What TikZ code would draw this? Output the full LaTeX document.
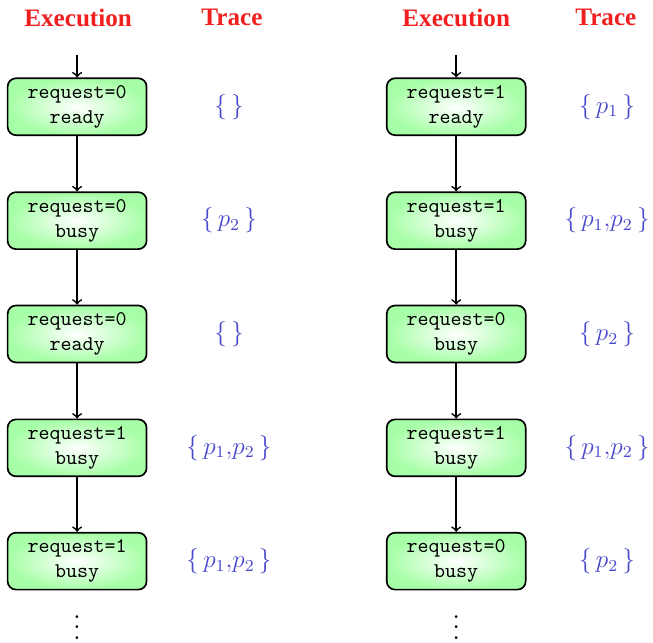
\documentclass[tikz,border=0pt]{standalone}
\usepackage{fontspec}
\newfontfamily\headfont{Liberation Serif}

\definecolor{headred}{RGB}{240,32,32}
\definecolor{traceblue}{RGB}{72,72,204}

\tikzset{
	state/.style={draw, thick, rounded corners=4pt, minimum width=2.33cm, minimum height=0.92cm,
		inner color=white, outer color=green!35, align=center, font=\ttfamily},
	trace/.style={text=traceblue, font=\large},
	heading/.style={text=headred, font=\headfont\bfseries\large},
	more/.style={scale=1.25, anchor=base, inner sep=0pt},
}

\begin{document}
\begin{tikzpicture}
		\useasboundingbox (0,0) rectangle (10.95,-10.78);
		%column headings
		\node[heading] (execL) at (1.31,-0.30){Execution};
		\node[heading] (traceL) at (3.89,-0.30){Trace};
		\node[heading] (execR) at (7.65,-0.30){Execution};
		\node[heading] (traceR) at (10.16,-0.30){Trace};
		
		%left run
		\coordinate (a0) at (1.293,-0.92);
		\node[state] (a1) at (1.293,-1.79){request=0\\ready};
		\node[state] (a2) at (1.293,-3.70){request=0\\busy};
		\node[state] (a3) at (1.293,-5.60){request=0\\ready};
		\node[state] (a4) at (1.293,-7.51){request=1\\busy};
		\node[state] (a5) at (1.293,-9.41){request=1\\busy};
		\node[more] (a6) at (1.293,-10.72){$\vdots$};
		
		\node[trace] (ta1) at (3.84,-1.79){$\{\,\}$};
		\node[trace] (ta2) at (3.84,-3.70){$\{\,p_2\,\}$};
		\node[trace] (ta3) at (3.84,-5.60){$\{\,\}$};
		\node[trace] (ta4) at (3.84,-7.51){$\{\,p_1{,}p_2\,\}$};
		\node[trace] (ta5) at (3.84,-9.41){$\{\,p_1{,}p_2\,\}$};
		
		%right run
		\coordinate (b0) at (7.65,-0.92);
		\node[state] (b1) at (7.65,-1.79){request=1\\ready};
		\node[state] (b2) at (7.65,-3.70){request=1\\busy};
		\node[state] (b3) at (7.65,-5.60){request=0\\busy};
		\node[state] (b4) at (7.65,-7.51){request=1\\busy};
		\node[state] (b5) at (7.65,-9.41){request=0\\busy};
		\node[more] (b6) at (7.65,-10.72){$\vdots$};
		
		\node[trace] (tb1) at (10.18,-1.79){$\{\,p_1\,\}$};
		\node[trace] (tb2) at (10.18,-3.70){$\{\,p_1{,}p_2\,\}$};
		\node[trace] (tb3) at (10.18,-5.60){$\{\,p_2\,\}$};
		\node[trace] (tb4) at (10.18,-7.51){$\{\,p_1{,}p_2\,\}$};
		\node[trace] (tb5) at (10.18,-9.41){$\{\,p_2\,\}$};
		
		%transitions
		\foreach \i [count=\j from 1] in {0, 1, 2, ..., 4}{
			\draw[->, thick] (a\i) -- (a\j);
			\draw[->, thick] (b\i) -- (b\j);
		}
\end{tikzpicture}
\end{document}
